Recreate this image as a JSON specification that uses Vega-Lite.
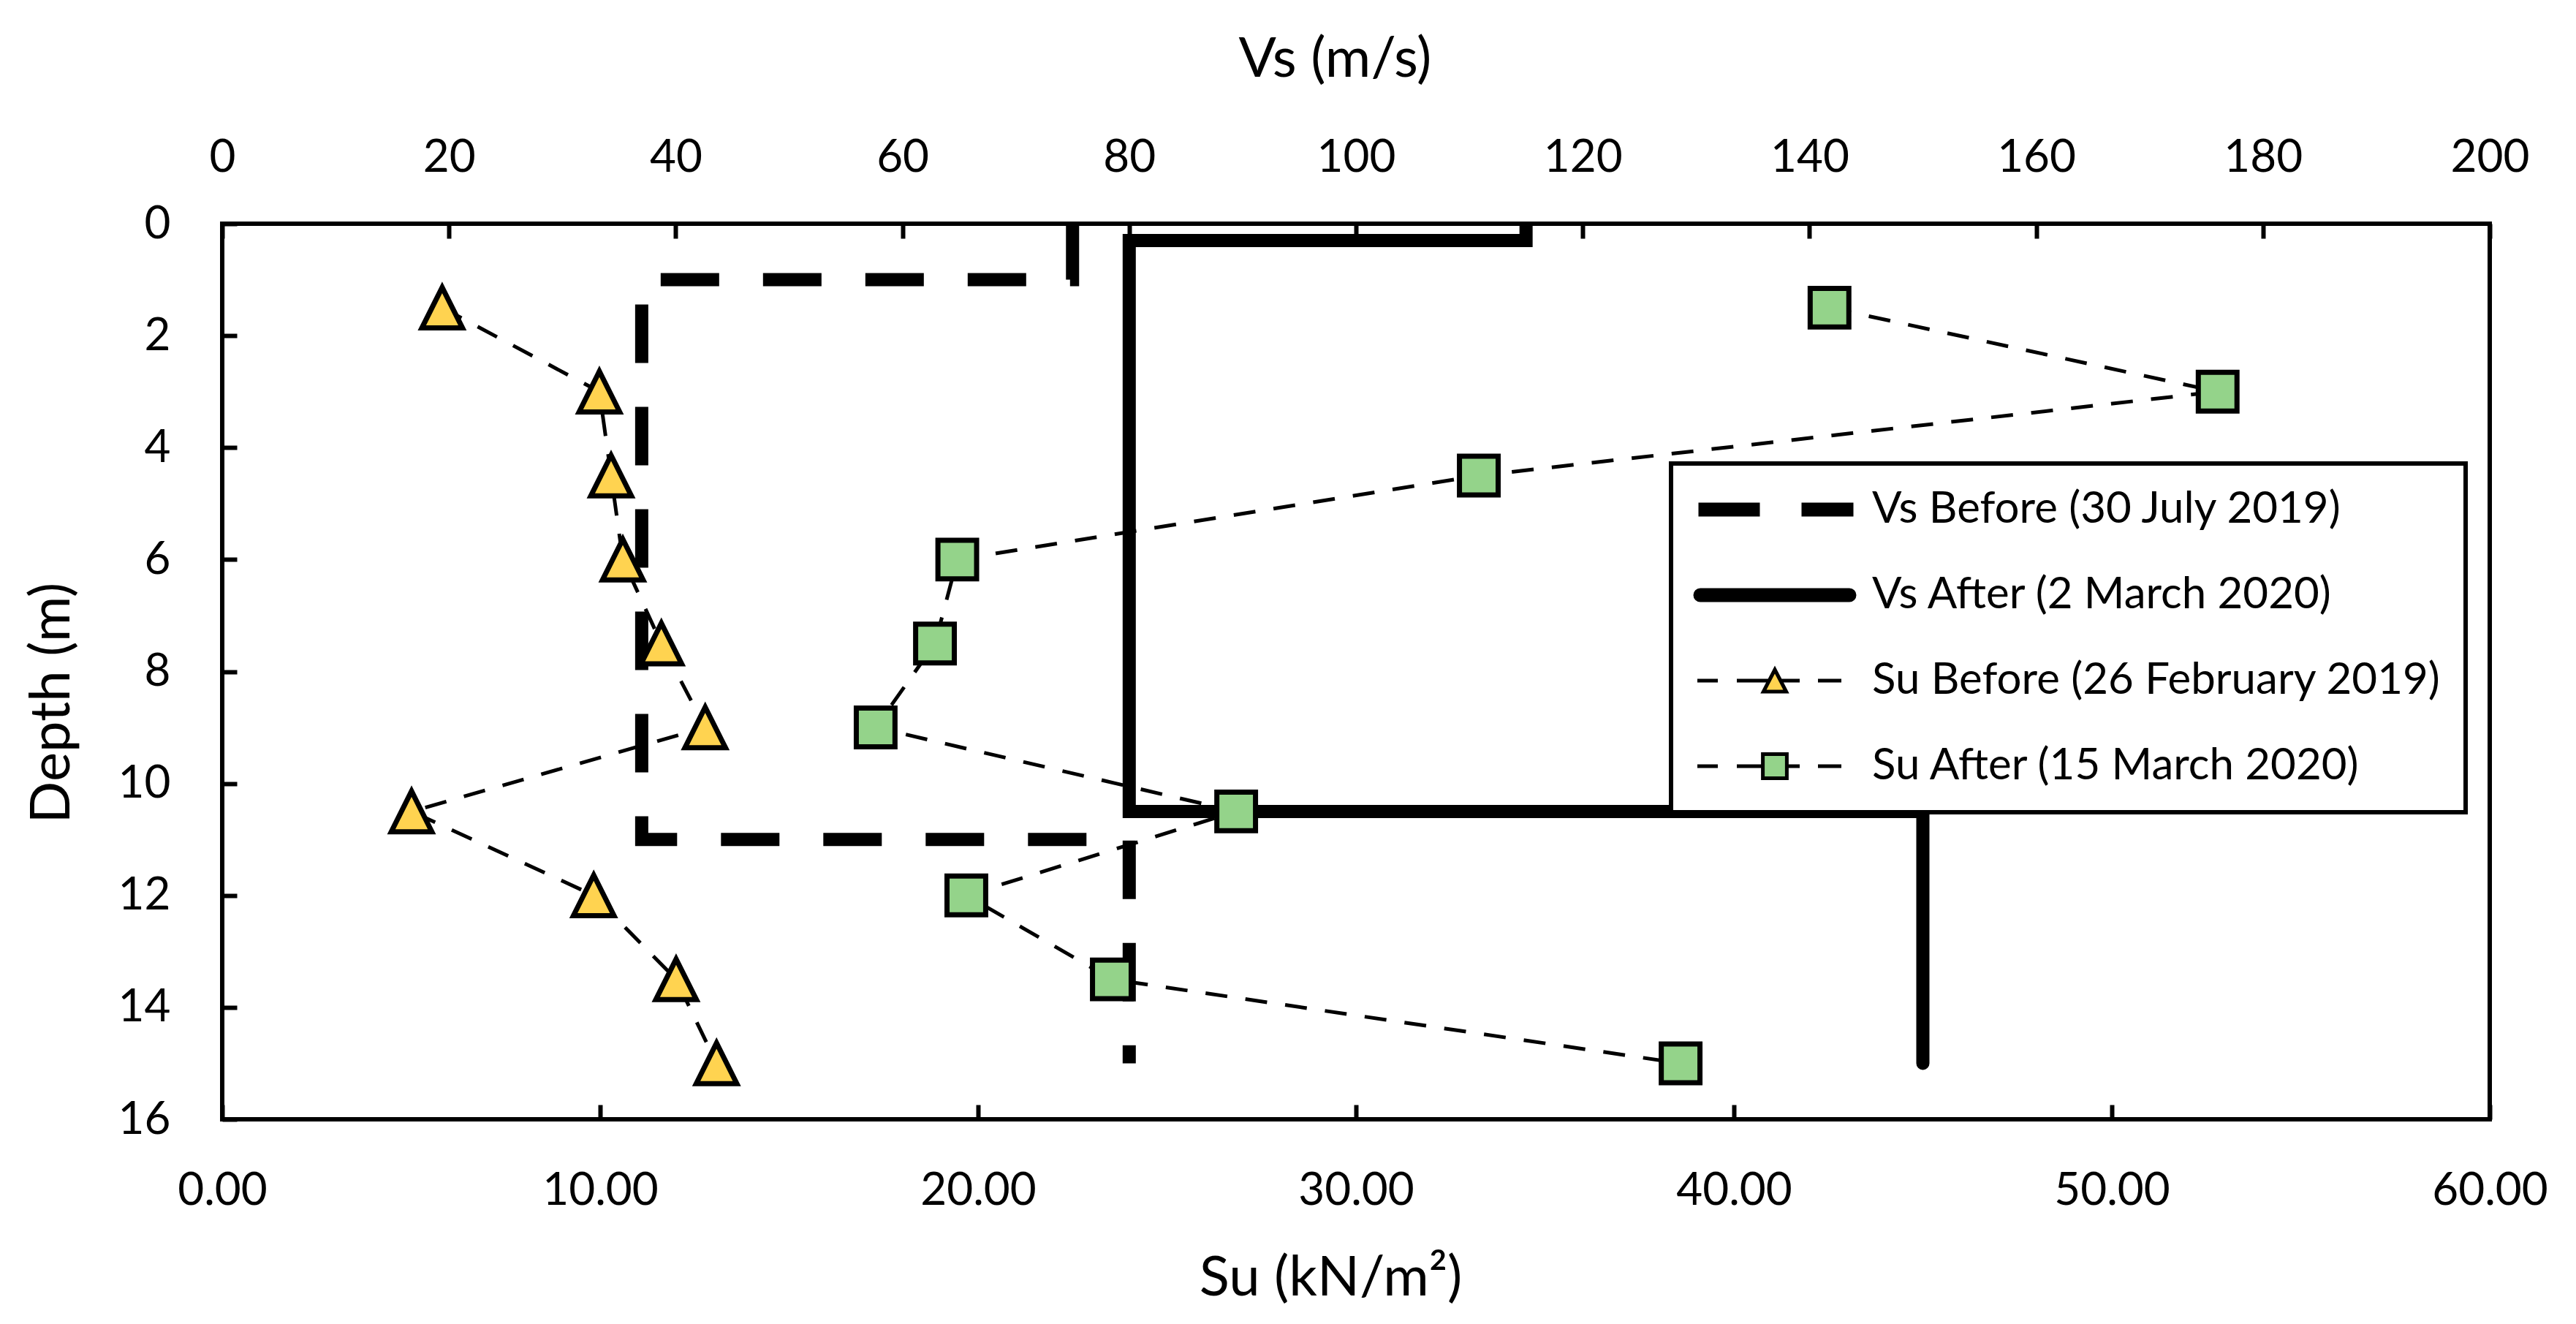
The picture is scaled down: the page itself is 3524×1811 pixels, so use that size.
{
  "$schema": "https://vega.github.io/schema/vega-lite/v6.json",
  "width": 3102,
  "height": 1225,
  "autosize": {"type": "none"},
  "padding": {"left": 304, "top": 306, "right": 118, "bottom": 280},
  "background": "white",
  "config": {
    "font": "Lato",
    "view": {"stroke": "black", "strokeWidth": 6},
    "legend": {"strokeWidth": 6},
    "axis": {
      "grid": false,
      "domain": false,
      "ticks": true,
      "tickColor": "black",
      "tickWidth": 6,
      "tickSize": -20,
      "labelFontSize": 62,
      "labelColor": "black",
      "labelFlush": false,
      "labelOverlap": false,
      "titleFontSize": 76,
      "titleFontWeight": "normal",
      "titleColor": "black"
    }
  },
  "datasets": {
    "vsBefore": [
      {"i": 0, "vs": 75, "depth": 0},
      {"i": 1, "vs": 75, "depth": 1},
      {"i": 2, "vs": 37, "depth": 1},
      {"i": 3, "vs": 37, "depth": 11},
      {"i": 4, "vs": 80, "depth": 11},
      {"i": 5, "vs": 80, "depth": 15}
    ],
    "vsAfter": [
      {"i": 0, "vs": 115, "depth": 0},
      {"i": 1, "vs": 115, "depth": 0.3},
      {"i": 2, "vs": 80, "depth": 0.3},
      {"i": 3, "vs": 80, "depth": 10.5},
      {"i": 4, "vs": 150, "depth": 10.5},
      {"i": 5, "vs": 150, "depth": 15}
    ],
    "su": [
      {"series": "Su Before (26 February 2019)", "depth": 1.5, "su": 5.82},
      {"series": "Su Before (26 February 2019)", "depth": 3, "su": 9.98},
      {"series": "Su Before (26 February 2019)", "depth": 4.5, "su": 10.29},
      {"series": "Su Before (26 February 2019)", "depth": 6, "su": 10.6},
      {"series": "Su Before (26 February 2019)", "depth": 7.5, "su": 11.62},
      {"series": "Su Before (26 February 2019)", "depth": 9, "su": 12.78},
      {"series": "Su Before (26 February 2019)", "depth": 10.5, "su": 5.01},
      {"series": "Su Before (26 February 2019)", "depth": 12, "su": 9.83},
      {"series": "Su Before (26 February 2019)", "depth": 13.5, "su": 12.01},
      {"series": "Su Before (26 February 2019)", "depth": 15, "su": 13.08},
      {"series": "Su After (15 March 2020)", "depth": 1.5, "su": 42.53},
      {"series": "Su After (15 March 2020)", "depth": 3, "su": 52.8},
      {"series": "Su After (15 March 2020)", "depth": 4.5, "su": 33.25},
      {"series": "Su After (15 March 2020)", "depth": 6, "su": 19.45},
      {"series": "Su After (15 March 2020)", "depth": 7.5, "su": 18.86},
      {"series": "Su After (15 March 2020)", "depth": 9, "su": 17.29},
      {"series": "Su After (15 March 2020)", "depth": 10.5, "su": 26.83},
      {"series": "Su After (15 March 2020)", "depth": 12, "su": 19.69},
      {"series": "Su After (15 March 2020)", "depth": 13.5, "su": 23.54},
      {"series": "Su After (15 March 2020)", "depth": 15, "su": 38.59}
    ]
  },
  "layer": [
    {
      "layer": [
        {
          "data": {"name": "vsBefore"},
          "mark": {"type": "line", "stroke": "black", "strokeWidth": 18, "strokeDash": [80, 60], "strokeCap": "butt", "strokeJoin": "miter"},
          "encoding": {
            "x": {"field": "vs", "type": "quantitative", "scale": {"domain": [0, 200], "nice": false, "zero": false},
              "axis": {"orient": "top", "title": "Vs (m/s)", "values": [0, 20, 40, 60, 80, 100, 120, 140, 160, 180, 200], "labelPadding": 79, "titlePadding": 64, "titleX": 1522}},
            "y": {"field": "depth", "type": "quantitative", "scale": {"domain": [0, 16], "reverse": true, "nice": false, "zero": false},
              "axis": {"orient": "left", "title": "Depth (m)", "values": [0, 2, 4, 6, 8, 10, 12, 14, 16], "labelPadding": 91, "titlePadding": 51, "titleY": 655}},
            "order": {"field": "i", "type": "quantitative"}
          }
        },
        {
          "data": {"name": "vsAfter"},
          "mark": {"type": "line", "stroke": "black", "strokeWidth": 18, "strokeCap": "round", "strokeJoin": "miter", "clip": true},
          "encoding": {
            "x": {"field": "vs", "type": "quantitative", "scale": {"domain": [0, 200], "nice": false, "zero": false},
              "axis": {"orient": "top", "title": "Vs (m/s)", "values": [0, 20, 40, 60, 80, 100, 120, 140, 160, 180, 200], "labelPadding": 79, "titlePadding": 64, "titleX": 1522}},
            "y": {"field": "depth", "type": "quantitative", "scale": {"domain": [0, 16], "reverse": true, "nice": false, "zero": false},
              "axis": {"orient": "left", "title": "Depth (m)", "values": [0, 2, 4, 6, 8, 10, 12, 14, 16], "labelPadding": 91, "titlePadding": 51, "titleY": 655}},
            "order": {"field": "i", "type": "quantitative"}
          }
        }
      ]
    },
    {
      "data": {"name": "su"},
      "encoding": {
        "x": {"field": "su", "type": "quantitative", "scale": {"domain": [0, 60], "nice": false, "zero": false},
          "axis": {"orient": "bottom", "title": "Su (kN/m²)", "values": [0, 10, 20, 30, 40, 50, 60], "format": ".2f", "labelPadding": 87, "titlePadding": 52, "titleX": 1516}},
        "y": {"field": "depth", "type": "quantitative", "scale": {"domain": [0, 16], "reverse": true, "nice": false, "zero": false},
          "axis": {"orient": "left", "title": "Depth (m)", "values": [0, 2, 4, 6, 8, 10, 12, 14, 16], "labelPadding": 91, "titlePadding": 51, "titleY": 655}}
      },
      "layer": [
        {
          "mark": {"type": "line", "stroke": "black", "strokeWidth": 5, "strokeDash": [30, 25]},
          "encoding": {
            "detail": {"field": "series", "type": "nominal"},
            "order": {"field": "depth", "type": "quantitative"}
          }
        },
        {
          "transform": [{"filter": "datum.series === 'Su Before (26 February 2019)'"}],
          "mark": {"type": "point", "shape": "M0,-1.05L-1.05,1.05L1.05,1.05Z", "filled": true, "fill": "#FFD350", "stroke": "black", "strokeWidth": 7, "size": 2800, "opacity": 1}
        },
        {
          "transform": [{"filter": "datum.series === 'Su After (15 March 2020)'"}],
          "mark": {"type": "point", "shape": "square", "filled": true, "fill": "#94D38A", "stroke": "black", "strokeWidth": 7, "size": 2800, "opacity": 1}
        },
        {
          "transform": [{"filter": "false"}],
          "mark": {"type": "point", "filled": true, "strokeWidth": 5, "opacity": 1},
          "encoding": {
            "fill": {"field": "series", "type": "nominal", "legend": null,
              "scale": {"domain": ["Vs Before (30 July 2019)", "Vs After (2 March 2020)", "Su Before (26 February 2019)", "Su After (15 March 2020)"],
                        "range": ["black", "black", "#FFD350", "#94D38A"]}},
            "stroke": {"field": "series", "type": "nominal", "legend": null,
              "scale": {"domain": ["Vs Before (30 July 2019)", "Vs After (2 March 2020)", "Su Before (26 February 2019)", "Su After (15 March 2020)"],
                        "range": ["black", "black", "black", "black"]}},
            "shape": {"field": "series", "type": "nominal",
              "scale": {"domain": ["Vs Before (30 July 2019)", "Vs After (2 March 2020)", "Su Before (26 February 2019)", "Su After (15 March 2020)"],
                        "range": [
                          "M-5.1,-0.35L-1.15,-0.35L-1.15,0.35L-5.1,0.35ZM1.95,-0.35L5.25,-0.35L5.25,0.35L1.95,0.35Z",
                          "M-5.1,-0.35L5.1,-0.35A0.35,0.35,0,0,1,5.1,0.35L-5.1,0.35A0.35,0.35,0,0,1,-5.1,-0.35Z",
                          "M-5.3,0L-3.9,0M-2.6,0L-0.4,0M0.4,0L1.7,0M2.95,0L4.55,0M0,-0.75L-0.78,0.75L0.78,0.75Z",
                          "M-5.3,0L-3.9,0M-2.6,0L-0.82,0M0.82,0L1.7,0M2.95,0L4.55,0M-0.82,-0.82L0.82,-0.82L0.82,0.82L-0.82,0.82Z"
                        ]},
              "legend": {
                "title": null,
                "orient": "none",
                "legendX": 1982,
                "legendY": 328,
                "padding": 33,
                "rowPadding": 57,
                "symbolSize": 1600,
                "symbolStrokeWidth": 5,
                "symbolOpacity": 1,
                "symbolOffset": 79,
                "labelOffset": 103,
                "labelFont": "Lato",
                "labelFontSize": 60,
                "labelColor": "black",
                "labelLimit": 2000,
                "strokeColor": "black",
                "fillColor": "white"
              }
            }
          }
        }
      ]
    }
  ],
  "resolve": {"scale": {"x": "independent"}, "axis": {"x": "independent"}}
}
